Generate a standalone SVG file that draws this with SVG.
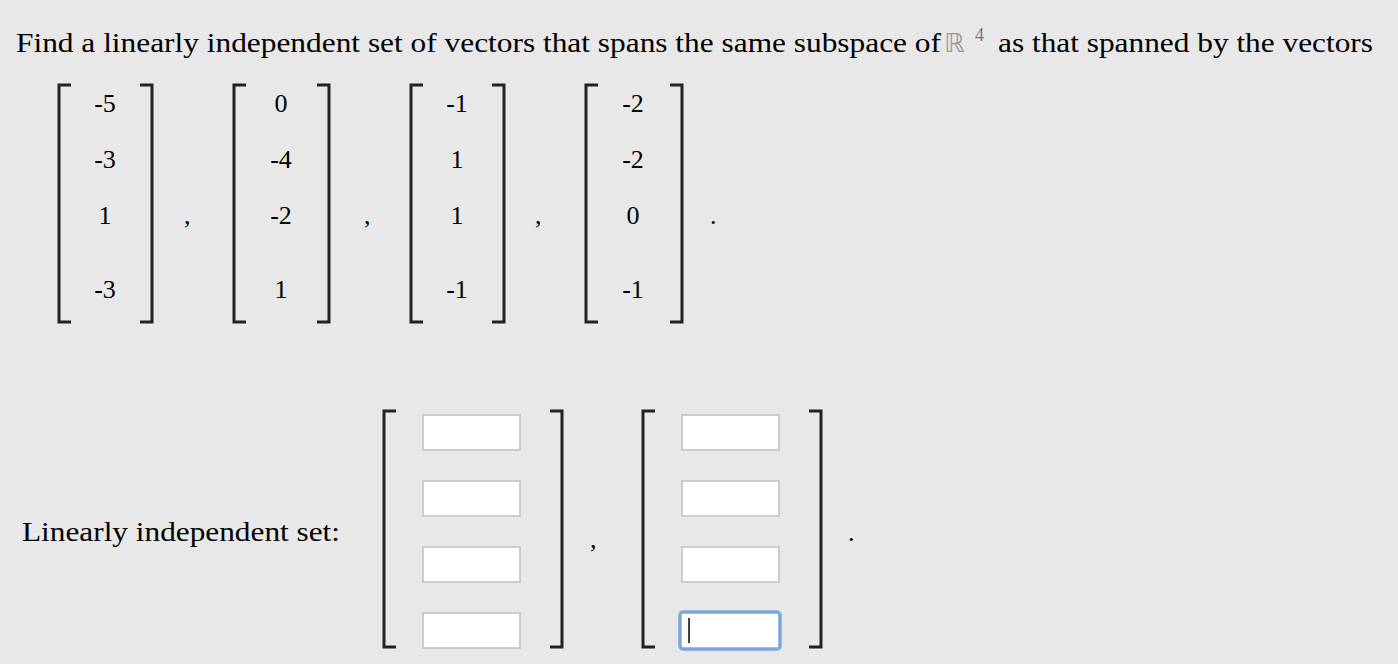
<svg xmlns="http://www.w3.org/2000/svg" width="1398" height="664" viewBox="0 0 1398 664">
<style>
text{font-family:"Liberation Serif",serif;font-size:27px;fill:#000}
.n{text-anchor:middle;font-size:26px}
.br{fill:none;stroke:#222;stroke-width:3}
.box{fill:#fff;stroke:#ccc;stroke-width:2}
</style>
<rect width="1398" height="664" fill="#e8e8e8"/>
<text x="16" y="52" textLength="925" lengthAdjust="spacingAndGlyphs">Find a linearly independent set of vectors that spans the same subspace of</text>
<text x="944" y="52" font-family="DejaVu Sans" style="font-family:'DejaVu Sans',sans-serif;fill:#999;font-size:26px">ℝ</text>
<text x="975" y="41" style="font-size:18px;fill:#777">4</text>
<text x="998" y="52" textLength="375" lengthAdjust="spacingAndGlyphs">as that spanned by the vectors</text>
<g id="v1">
<path class="br" d="M71,85 H59 V322 H71 M140,85 H152 V322 H140"/>
<text class="n" x="105" y="112">-5</text><text class="n" x="105" y="168">-3</text><text class="n" x="105" y="224">1</text><text class="n" x="105" y="298">-3</text>
</g>
<text x="184" y="224" style="font-size:26px">,</text>
<g id="v2">
<path class="br" d="M246,85 H234 V322 H246 M317,85 H329 V322 H317"/>
<text class="n" x="281" y="112">0</text><text class="n" x="281" y="168">-4</text><text class="n" x="281" y="224">-2</text><text class="n" x="281" y="298">1</text>
</g>
<text x="364" y="224" style="font-size:26px">,</text>
<g id="v3">
<path class="br" d="M423,85 H411 V322 H423 M492,85 H504 V322 H492"/>
<text class="n" x="457" y="112">-1</text><text class="n" x="457" y="168">1</text><text class="n" x="457" y="224">1</text><text class="n" x="457" y="298">-1</text>
</g>
<text x="535" y="224" style="font-size:26px">,</text>
<g id="v4">
<path class="br" d="M598,85 H586 V322 H598 M670,85 H682 V322 H670"/>
<text class="n" x="633" y="112">-2</text><text class="n" x="633" y="168">-2</text><text class="n" x="633" y="224">0</text><text class="n" x="633" y="298">-1</text>
</g>
<text x="710" y="224" style="font-size:26px">.</text>
<text x="22" y="541" textLength="318" lengthAdjust="spacingAndGlyphs">Linearly independent set:</text>
<g id="a1">
<path class="br" d="M396,411 H384 V647 H396 M550,411 H562 V647 H550"/>
<rect class="box" x="423" y="415" width="97" height="35"/>
<rect class="box" x="423" y="481" width="97" height="35"/>
<rect class="box" x="423" y="547" width="97" height="35"/>
<rect class="box" x="423" y="613" width="97" height="35"/>
</g>
<text x="590" y="548" style="font-size:26px">,</text>
<g id="a2">
<path class="br" d="M655,411 H643 V647 H655 M809,411 H821 V647 H809"/>
<rect class="box" x="682" y="415" width="97" height="35"/>
<rect class="box" x="682" y="481" width="97" height="35"/>
<rect class="box" x="682" y="547" width="97" height="35"/>
<rect x="680" y="612" width="100" height="37" rx="3" fill="#fff" stroke="#7aa7dc" stroke-width="3.5"/>
<line x1="689" y1="618" x2="689" y2="643" stroke="#000" stroke-width="1.5"/>
</g>
<text x="848" y="541" style="font-size:26px">.</text>
</svg>
